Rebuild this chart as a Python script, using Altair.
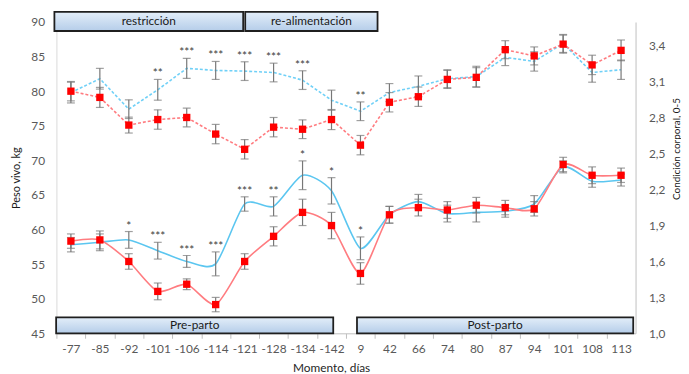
import altair as alt
import pandas as pd

# ---------------- data ----------------
labels = ["-77", "-85", "-92", "-101", "-106", "-114", "-121", "-128", "-134", "-142",
          "9", "42", "66", "74", "80", "87", "94", "101", "108", "113"]

# Peso vivo, kg (dashed lines, left axis)
w_red = [80.0, 79.1, 75.1, 75.9, 76.2, 73.8, 71.6, 74.8, 74.5, 75.9,
         72.2, 78.4, 79.2, 81.7, 82.0, 86.0, 85.1, 86.8, 83.8, 85.9]
w_red_err = [1.4, 1.45, 1.15, 1.4, 1.35, 1.4, 1.4, 1.4, 1.35, 1.45,
             1.4, 1.4, 1.4, 1.3, 1.4, 1.3, 1.3, 1.3, 1.4, 1.5]
w_cyan = [79.8, 81.8, 77.4, 80.2, 83.3, 83.0, 82.9, 82.7, 81.6, 78.7,
          77.1, 79.8, 80.7, 81.8, 82.1, 84.9, 84.3, 86.9, 82.7, 83.1]
w_cyan_err = [1.5, 1.5, 1.35, 1.5, 1.45, 1.3, 1.35, 1.35, 1.35, 1.45,
              1.35, 1.3, 1.5, 1.3, 1.5, 1.2, 1.4, 1.3, 1.4, 1.4]

# Condición corporal, 0-5 (solid lines, right axis)
b_red = [1.77, 1.78, 1.60, 1.35, 1.41, 1.24, 1.60, 1.81, 2.01, 1.90,
         1.50, 1.99, 2.05, 2.03, 2.07, 2.05, 2.04, 2.41, 2.32, 2.32]
b_red_err = [0.06, 0.075, 0.065, 0.07, 0.045, 0.06, 0.065, 0.08, 0.11, 0.11,
             0.09, 0.07, 0.07, 0.07, 0.065, 0.06, 0.06, 0.06, 0.07, 0.06]
b_cyan = [1.74, 1.76, 1.78, 1.69, 1.60, 1.58, 2.08, 2.06, 2.32, 2.19,
          1.71, 1.99, 2.10, 2.00, 2.01, 2.02, 2.08, 2.39, 2.27, 2.28]
b_cyan_err = [0.06, 0.07, 0.07, 0.07, 0.05, 0.10, 0.06, 0.08, 0.12, 0.11,
              0.095, 0.07, 0.06, 0.07, 0.08, 0.05, 0.07, 0.05, 0.05, 0.05]

stars_w = ["", "", "", "**", "***", "***", "***", "***", "***", "",
           "**", "", "", "", "", "", "", "", "", ""]
stars_b = ["", "", "*", "***", "***", "***", "***", "**", "*", "*",
           "*", "", "", "", "", "", "", "", "", ""]

box_text = ["restricción", "re-alimentación", "Pre-parto", "Post-parto"]
box_x0 = [-0.57, 6.02, -0.51, 9.88]
box_x1 = [5.95, 10.59, 9.06, 19.42]
box_y0 = [88.7, 88.7, 45.0, 45.0]
box_y1 = [91.45, 91.45, 47.3, 47.3]

idx = list(range(len(labels)))


def series_df(vals, errs):
    return pd.DataFrame({
        "idx": idx,
        "v": vals,
        "lo": [v - e for v, e in zip(vals, errs)],
        "hi": [v + e for v, e in zip(vals, errs)],
    })


def star_df(stars, a_vals, a_err, b_vals, b_err):
    ys = [max(a + ea, b + eb) for a, ea, b, eb in zip(a_vals, a_err, b_vals, b_err)]
    d = pd.DataFrame({"idx": idx, "star": stars, "y": ys})
    return d[d["star"] != ""]


d_w_red = series_df(w_red, w_red_err)
d_w_cyan = series_df(w_cyan, w_cyan_err)
d_b_red = series_df(b_red, b_red_err)
d_b_cyan = series_df(b_cyan, b_cyan_err)
d_star_w = star_df(stars_w, w_red, w_red_err, w_cyan, w_cyan_err)
d_star_b = star_df(stars_b, b_red, b_red_err, b_cyan, b_cyan_err)
d_box = pd.DataFrame({"t": box_text, "x0": box_x0, "x1": box_x1, "y0": box_y0, "y1": box_y1})
d_box["xm"] = (d_box["x0"] + d_box["x1"]) / 2
d_box["ym"] = (d_box["y0"] + d_box["y1"]) / 2

# ---------------- styling ----------------
FONT = "Lato"
RED_LINE = "#FF7C80"
CYAN_LINE = "#5BC6F0"
CYAN_DASH = "#6FD0F7"
ERR = "#777777"
W = 586
H = 315
band = W / len(labels)

label_expr = "[" + ",".join("'%s'" % l for l in labels) + "][datum.value]"
xscale = alt.Scale(domain=[-0.5, len(labels) - 0.5], nice=False, zero=False)
xaxis = alt.Axis(values=idx, labelExpr=label_expr, tickOffset=-band / 2, labelOffset=band / 2,
                 tickSize=5, tickColor="#BFBFBF", domainColor="#BFBFBF", labelColor="#595959",
                 labelFontSize=12, labelFont=FONT, labelPadding=5, title="Momento, días",
                 titleFont=FONT, titleFontSize=12, titleColor="#262626", titleFontWeight="normal",
                 titlePadding=9, titleX=278, grid=False, orient="bottom")

wscale = alt.Scale(domain=[45, 90], nice=False, zero=False)
waxis = alt.Axis(values=list(range(45, 91, 5)), ticks=False, tickSize=0, domainColor="#D9D9D9",
                 labelColor="#595959", labelFontSize=12, labelFont=FONT, labelPadding=12,
                 title="Peso vivo, kg", titleFont=FONT, titleFontSize=11, titleColor="#1a1a1a",
                 titleFontWeight="normal", titlePadding=9, grid=False, orient="left")
bscale = alt.Scale(domain=[1.0, 3.6], nice=False, zero=False)
baxis = alt.Axis(values=[1.0, 1.3, 1.6, 1.9, 2.2, 2.5, 2.8, 3.1, 3.4], ticks=False, tickSize=0,
                 domainColor="#BFBFBF", labelColor="#595959", labelFontSize=12, labelFont=FONT,
                 labelPadding=13, labelExpr="replace(format(datum.value, '.1f'), '.', ',')",
                 title="Condición corporal, 0-5", titleFont=FONT, titleFontSize=10,
                 titleColor="#1a1a1a", titleFontWeight="normal", titleAngle=270,
                 titleBaseline="middle", titleAlign="center", titleX=41, titleY=128,
                 grid=False, orient="right")

AX = {"w": (wscale, waxis), "b": (bscale, baxis)}


def xq(field="idx"):
    return alt.X(field + ":Q", scale=xscale, axis=xaxis)


def yq(field, which):
    sc, ax = AX[which]
    return alt.Y(field + ":Q", scale=sc, axis=ax)


def line(df, which, color, dashed):
    if dashed:
        m = alt.Chart(df).mark_line(color=color, strokeWidth=1.6, strokeDash=[3, 2],
                                    interpolate="linear")
    else:
        m = alt.Chart(df).mark_line(color=color, strokeWidth=1.6, interpolate="cardinal",
                                    tension=0.3)
    return m.encode(x=xq(), y=yq("v", which))


def errbars(df, which):
    rule = alt.Chart(df).mark_rule(color=ERR, strokeWidth=1.2).encode(
        x=xq(), y=yq("lo", which), y2="hi:Q")
    t1 = alt.Chart(df).mark_tick(color=ERR, orient="horizontal", size=8, thickness=1.2).encode(
        x=xq(), y=yq("lo", which))
    t2 = alt.Chart(df).mark_tick(color=ERR, orient="horizontal", size=8, thickness=1.2).encode(
        x=xq(), y=yq("hi", which))
    return [rule, t1, t2]


def markers(df, which):
    return alt.Chart(df).mark_square(color="#FF0000", size=55, opacity=1).encode(
        x=xq(), y=yq("v", which))


def stars(df, which):
    return alt.Chart(df).mark_text(font=FONT, fontSize=12, color="#404040", baseline="alphabetic",
                                   dy=-2).encode(
        x=xq(), y=yq("y", which), text="star:N")


grad = alt.LinearGradient(gradient="linear", x1=0, y1=0, x2=0, y2=1,
                          stops=[alt.GradientStop(color="#E3EEF9", offset=0),
                                 alt.GradientStop(color="#B5CDE9", offset=1)])
boxes = alt.Chart(d_box).mark_rect(fill=grad, stroke="#1F1F1F", strokeWidth=1.8).encode(
    x=xq("x0"), x2="x1:Q", y=yq("y0", "w"), y2="y1:Q")
box_labels = alt.Chart(d_box).mark_text(font=FONT, fontSize=12, color="#1a1a1a",
                                        baseline="middle").encode(
    x=xq("xm"), y=yq("ym", "w"), text="t:N")

left = alt.layer(
    boxes, box_labels,
    line(d_w_cyan, "w", CYAN_DASH, True),
    line(d_w_red, "w", RED_LINE, True),
    *errbars(d_w_cyan, "w"), *errbars(d_w_red, "w"),
    markers(d_w_red, "w"),
    stars(d_star_w, "w"),
)

right = alt.layer(
    line(d_b_cyan, "b", CYAN_LINE, False),
    line(d_b_red, "b", RED_LINE, False),
    *errbars(d_b_cyan, "b"), *errbars(d_b_red, "b"),
    markers(d_b_red, "b"),
    stars(d_star_b, "b"),
)

chart = alt.layer(left, right).resolve_scale(y="independent").properties(
    width=W, height=H,
    autosize=alt.AutoSizeParams(type="none"),
    padding={"left": 49, "top": 12, "right": 46, "bottom": 39},
    background="white",
).configure_view(stroke=None)

chart.save("out.html", embed_options={"renderer": "svg", "actions": False})
